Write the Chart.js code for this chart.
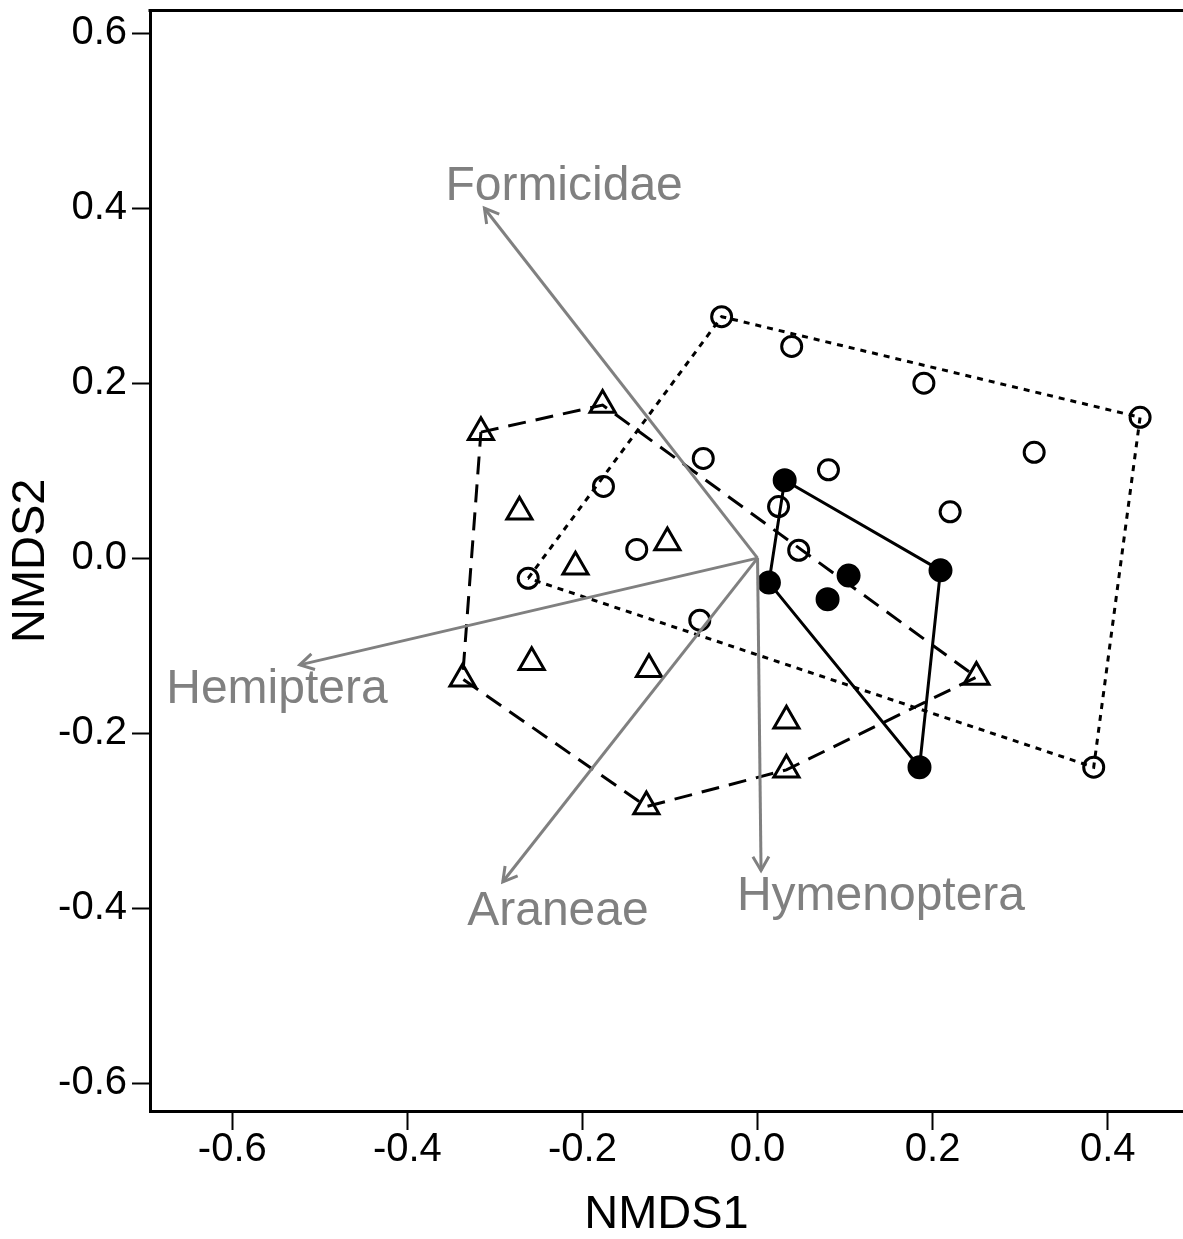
<!DOCTYPE html>
<html>
<head>
<meta charset="utf-8">
<script src="https://cdn.jsdelivr.net/npm/chart.js@4.4.1/dist/chart.umd.min.js"></script>
<style>
html, body { margin: 0; padding: 0; overflow: hidden; background: #fff; }
canvas { display: block; }
</style>
</head>
<body>
<canvas id="nmdsChart" width="1183" height="1239"></canvas>
<script>
// group 1: open circles, dotted hull
const openX = [-0.041, 0.039, 0.190, 0.437, 0.316, 0.081, -0.062, -0.176, 0.220, 0.024, -0.138, 0.047, -0.262, -0.066, 0.384];
const openY = [0.276, 0.242, 0.200, 0.161, 0.121, 0.101, 0.114, 0.082, 0.053, 0.059, 0.010, 0.009, -0.023, -0.071, -0.239];
const openHull = [12, 0, 3, 14, 12];

// group 2: filled circles, solid hull
const filledX = [0.031, 0.209, 0.104, 0.013, 0.080, 0.185];
const filledY = [0.089, -0.014, -0.020, -0.028, -0.047, -0.239];
const filledHull = [0, 1, 5, 3, 0];

// group 3: triangles, dashed hull
const triX = [-0.316, -0.177, -0.272, -0.208, -0.103, -0.337, -0.258, -0.124, -0.127, 0.033, 0.033, 0.250];
const triY = [0.144, 0.175, 0.053, -0.010, 0.018, -0.138, -0.119, -0.127, -0.284, -0.186, -0.242, -0.136];
const triHull = [0, 1, 11, 10, 8, 5, 0];

// fitted vectors
const vecNames = ['Formicidae', 'Hemiptera', 'Araneae', 'Hymenoptera'];
const vecX = [-0.312, -0.523, -0.291, 0.004];
const vecY = [0.400, -0.122, -0.370, -0.357];
const labX = [-0.221, -0.549, -0.228, 0.141];
const labY = [0.424, -0.150, -0.404, -0.387];

const xTicks = [-0.6, -0.4, -0.2, 0.0, 0.2, 0.4];
const yTicks = [-0.6, -0.4, -0.2, 0.0, 0.2, 0.4, 0.6];

const vecColor = '#808080';
Chart.defaults.font.family = '"Liberation Sans", Arial, sans-serif';

function pts(xs, ys) {
    return xs.map(function (v, i) { return {x: v, y: ys[i]}; });
}

function hull(xs, ys, idx) {
    return idx.map(function (i) { return {x: xs[i], y: ys[i]}; });
}

function hullSet(data, dash) {
    return {
        type: 'scatter', data: data, showLine: true, order: 3,
        borderColor: '#000', borderWidth: 3, borderDash: dash,
        borderCapStyle: 'butt', pointRadius: 0, fill: false, tension: 0
    };
}

const datasets = [
    hullSet(hull(openX, openY, openHull), [6, 6]),
    hullSet(hull(filledX, filledY, filledHull), []),
    hullSet(hull(triX, triY, triHull), [18, 10]),
    {
        data: pts(openX, openY), order: 2, pointStyle: 'circle', pointRadius: 10,
        pointBorderWidth: 3, pointBorderColor: '#000', pointBackgroundColor: 'rgba(0,0,0,0)'
    },
    {
        data: pts(filledX, filledY), order: 2, pointStyle: 'circle', pointRadius: 10.5,
        pointBorderWidth: 3, pointBorderColor: '#000', pointBackgroundColor: '#000'
    },
    {
        data: pts(triX, triY), order: 2, pointStyle: 'triangle', pointRadius: 14.5,
        pointBorderWidth: 3, pointBorderColor: '#000', pointBackgroundColor: 'rgba(0,0,0,0)'
    }
];

vecNames.forEach(function (name, i) {
    datasets.push({
        type: 'scatter', data: [{x: 0, y: 0}, {x: vecX[i], y: vecY[i]}], showLine: true,
        order: 1, borderColor: vecColor, borderWidth: 3, pointRadius: 0, fill: false
    });
});

// top edge of the plot box (right edge falls outside the picture)
const boxPlugin = {
    id: 'box',
    afterDraw(chart) {
        const ctx = chart.ctx;
        const a = chart.chartArea;
        ctx.save();
        ctx.strokeStyle = '#000';
        ctx.lineWidth = 3;
        ctx.beginPath();
        ctx.moveTo(a.left - 1.5, a.top);
        ctx.lineTo(a.right, a.top);
        ctx.stroke();
        ctx.restore();
    }
};

// arrow heads and vector labels
const vectorPlugin = {
    id: 'vectors',
    afterDatasetsDraw(chart) {
        const ctx = chart.ctx;
        const sx = chart.scales.x, sy = chart.scales.y;
        const x0 = sx.getPixelForValue(0), y0 = sy.getPixelForValue(0);
        ctx.save();
        ctx.strokeStyle = vecColor;
        ctx.fillStyle = vecColor;
        ctx.lineWidth = 3;
        ctx.font = '48px "Liberation Sans", Arial, sans-serif';
        ctx.textAlign = 'center';
        ctx.textBaseline = 'middle';
        vecNames.forEach(function (name, i) {
            const tx = sx.getPixelForValue(vecX[i]), ty = sy.getPixelForValue(vecY[i]);
            const ang = Math.atan2(ty - y0, tx - x0);
            const len = 16;
            ctx.beginPath();
            ctx.moveTo(tx - len * Math.cos(ang - Math.PI / 6), ty - len * Math.sin(ang - Math.PI / 6));
            ctx.lineTo(tx, ty);
            ctx.lineTo(tx - len * Math.cos(ang + Math.PI / 6), ty - len * Math.sin(ang + Math.PI / 6));
            ctx.stroke();
            ctx.fillText(name, sx.getPixelForValue(labX[i]), sy.getPixelForValue(labY[i]));
        });
        ctx.restore();
    }
};

const axisGrid = {drawOnChartArea: false, drawTicks: true, tickWidth: 2, tickColor: '#000'};

const config = {
    type: 'scatter',
    data: {datasets: datasets},
    options: {
        responsive: false,
        animation: false,
        events: [],
        layout: {autoPadding: false, padding: {top: 10.5, right: 0, left: 0, bottom: 0}},
        plugins: {legend: {display: false}, tooltip: {enabled: false}},
        scales: {
            x: {
                type: 'linear', min: -0.694, max: 0.486,
                afterBuildTicks: function (s) { s.ticks = xTicks.map(function (v) { return {value: v}; }); },
                afterFit: function (s) { s.height = 128; s.paddingLeft = 0; s.paddingRight = 0; },
                grid: Object.assign({tickLength: 19}, axisGrid),
                border: {display: true, color: '#000', width: 3},
                ticks: {
                    color: '#000', font: {size: 40, lineHeight: 1}, padding: 0,
                    maxRotation: 0, autoSkip: false,
                    callback: function (v) { return v.toFixed(1); }
                },
                title: {display: true, text: 'NMDS1', color: '#000', font: {size: 47, lineHeight: 1}, padding: 0}
            },
            y: {
                type: 'linear', min: -0.632, max: 0.626,
                afterBuildTicks: function (s) { s.ticks = yTicks.map(function (v) { return {value: v}; }); },
                afterFit: function (s) { s.width = 150; s.paddingTop = 0; s.paddingBottom = 0; },
                grid: Object.assign({tickLength: 18}, axisGrid),
                border: {display: true, color: '#000', width: 3},
                ticks: {
                    color: '#000', font: {size: 40, lineHeight: 1}, padding: 5, autoSkip: false,
                    callback: function (v) { return v.toFixed(1); }
                },
                title: {display: true, text: 'NMDS2', color: '#000', font: {size: 47, lineHeight: 1}, padding: {top: 8, bottom: 0}}
            }
        }
    },
    plugins: [boxPlugin, vectorPlugin]
};

const nmdsChart = new Chart(document.getElementById('nmdsChart'), config);
</script>
</body>
</html>
